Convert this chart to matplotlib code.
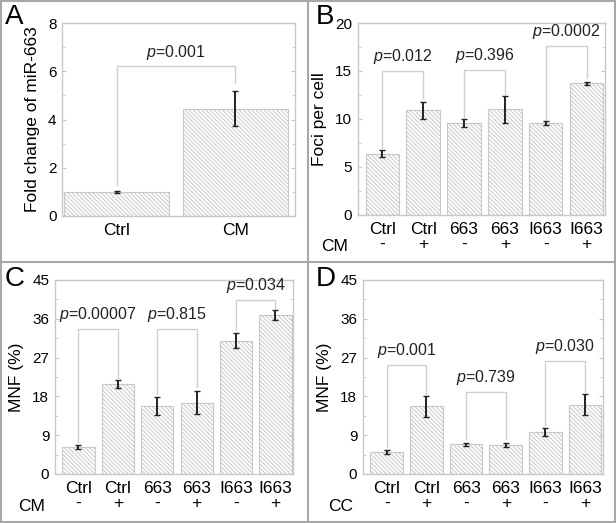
import matplotlib
matplotlib.use("Agg")
import matplotlib.pyplot as plt
from matplotlib.lines import Line2D
from matplotlib.ticker import AutoMinorLocator

plt.rcParams["font.family"] = ["Liberation Sans", "DejaVu Sans"]
plt.rcParams["mathtext.fontset"] = "custom"
plt.rcParams["mathtext.it"] = "Liberation Sans:italic"
plt.rcParams["mathtext.rm"] = "Liberation Sans"
plt.rcParams["hatch.color"] = "#a5a5a5"
plt.rcParams["hatch.linewidth"] = 0.7

# panel A
a_groups = ["Ctrl", "CM"]
a_vals = [1.0, 4.45]
a_err = [0.03, 0.72]
a_p = ["0.001"]
a_bracket = [6.2]
a_legs = [(1.3, 5.5)]

# panels B-D share the same groups
groups = ["Ctrl", "Ctrl", "663", "663", "I663", "I663"]
signs = ["-", "+", "-", "+", "-", "+"]

b_vals = [6.4, 10.9, 9.6, 11.0, 9.6, 13.7]
b_err = [0.4, 0.9, 0.4, 1.4, 0.2, 0.2]
b_p = ["0.012", "0.396", "0.0002"]
b_bracket = [15.0, 15.1, 17.6]
b_legs = [(6.9, 12.2), (10.2, 12.6), (10.0, 14.3)]

c_vals = [6.2, 20.8, 15.7, 16.5, 30.9, 36.9]
c_err = [0.5, 0.9, 2.1, 2.7, 1.7, 1.1]
c_p = ["0.00007", "0.815", "0.034"]
c_bracket = [33.7, 33.7, 40.3]
c_legs = [(7.4, 22.1), (18.6, 20.2), (33.4, 38.4)]

d_vals = [5.1, 15.7, 6.9, 6.75, 9.7, 16.1]
d_err = [0.4, 2.4, 0.4, 0.4, 0.9, 2.5]
d_p = ["0.001", "0.739", "0.030"]
d_bracket = [25.2, 19.0, 26.3]
d_legs = [(6.2, 18.6), (8.1, 8.1), (11.3, 19.0)]

GRAY = "#c8c8c8"
FS = 12.5

fig = plt.figure(figsize=(6.16, 5.23), dpi=100)


def style_axes(ax, ymax, yticks):
    ax.set_ylim(0, ymax)
    ax.set_yticks(yticks)
    ax.yaxis.set_minor_locator(AutoMinorLocator(2))
    for s in ax.spines.values():
        s.set_color(GRAY)
        s.set_linewidth(1.0)
    ax.tick_params(axis="y", which="major", direction="in", length=3,
                   color=GRAY, right=True, labelsize=11, pad=4)
    ax.tick_params(axis="y", which="minor", direction="in", length=2,
                   color=GRAY, right=True)
    ax.tick_params(axis="x", length=0, labelsize=FS, pad=5)


def draw_bars(ax, vals, err, width):
    x = list(range(len(vals)))
    ax.bar(x, vals, width=width, color="white", edgecolor=GRAY,
           hatch="\\" * 8, linewidth=0.8)
    ax.errorbar(x, vals, yerr=err, fmt="none", ecolor="#222222",
                elinewidth=1.4, capsize=2, capthick=1.0)
    return x


def draw_brackets(ax, pairs, heights, legs, pvals, ymax):
    for (i, j), h, (l1, l2), p in zip(pairs, heights, legs, pvals):
        ax.plot([i, i, j, j], [l1, h, h, l2], color="#cfcfcf", lw=1.0,
                solid_joinstyle="miter")
        ax.text((i + j) / 2, h + ymax * 0.025, r"$\it{p}$=" + p,
                ha="center", va="bottom", fontsize=11.5, color="#222222")


# A
axA = fig.add_axes([0.1006, 0.587, 0.378, 0.369])
xa = draw_bars(axA, a_vals, a_err, 0.88)
axA.set_xlim(-0.46, 1.5)
style_axes(axA, 8, [0, 2, 4, 6, 8])
axA.set_xticks(xa)
axA.set_xticklabels(a_groups)
axA.set_ylabel("Fold change of miR-663", fontsize=FS, labelpad=6)
draw_brackets(axA, [(0, 1)], a_bracket, a_legs, a_p, 8)

six = [
    ("B", [0.581, 0.589, 0.401, 0.367], b_vals, b_err, b_p, b_bracket, b_legs,
     20, [0, 5, 10, 15, 20], "Foci per cell", "CM"),
    ("C", [0.089, 0.0937, 0.387, 0.371], c_vals, c_err, c_p, c_bracket, c_legs,
     45, [0, 9, 18, 27, 36, 45], "MNF (%)", "CM"),
    ("D", [0.589, 0.0937, 0.390, 0.371], d_vals, d_err, d_p, d_bracket, d_legs,
     45, [0, 9, 18, 27, 36, 45], "MNF (%)", "CC"),
]

for letter, rect, vals, err, pv, br, legs, ymax, yt, ylab, treat in six:
    ax = fig.add_axes(rect)
    x = draw_bars(ax, vals, err, 0.82)
    ax.set_xlim(-0.6, 5.45)
    style_axes(ax, ymax, yt)
    ax.set_xticks(x)
    ax.set_xticklabels([g + "\n" + s for g, s in zip(groups, signs)],
                       linespacing=1.0)
    ax.set_ylabel(ylab, fontsize=FS, labelpad=6)
    draw_brackets(ax, [(0, 1), (2, 3), (4, 5)], br, legs, pv, ymax)
    ax.text(-0.04, -0.165, treat, transform=ax.transAxes, ha="right",
            va="center", fontsize=FS)

# panel letters
fig.text(0.008, 0.967, "A", fontsize=20, va="center")
fig.text(0.512, 0.967, "B", fontsize=20, va="center")
fig.text(0.008, 0.467, "C", fontsize=20, va="center")
fig.text(0.512, 0.467, "D", fontsize=20, va="center")

# panel frames
fc = "#a8a8a8"
for xs, ys in [([0.002, 0.998], [0.002, 0.002]), ([0.002, 0.998], [0.998, 0.998]),
               ([0.002, 0.002], [0.002, 0.998]), ([0.998, 0.998], [0.002, 0.998]),
               ([0.5, 0.5], [0.0, 1.0]), ([0.0, 1.0], [0.499, 0.499])]:
    fig.add_artist(Line2D(xs, ys, color=fc, lw=1.5, transform=fig.transFigure))

fig.savefig("out.png", dpi=100)
